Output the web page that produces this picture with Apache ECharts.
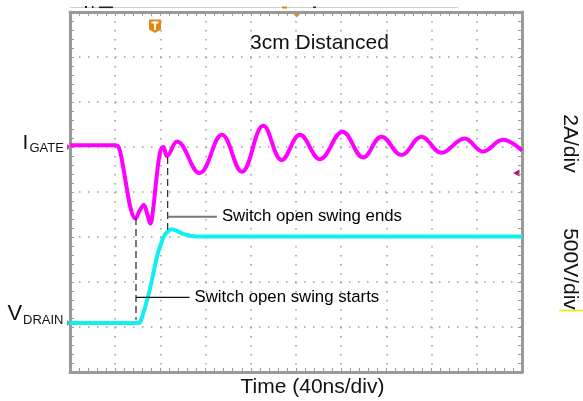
<!DOCTYPE html>
<html>
<head>
<meta charset="utf-8">
<script src="https://cdn.jsdelivr.net/npm/echarts@6/dist/echarts.min.js"></script>
<style>
html,body{margin:0;padding:0;background:#fff;}
#chart{width:583px;height:401px;}
</style>
</head>
<body>
<div id="chart"></div>
<script>
// Time axis: ns (40 ns/div, 10 divisions); vertical axis: screen divisions (8)
const timeRange = [0, 400];
const divRange = [0, 8];

// I_GATE trace (magenta): [time ns, divisions]
const gateTrace = [
  [0,5.04],[40,5.04],[43,5.0],[46,4.7],[50.5,4.05],[54,3.6],[57.8,3.41],[61.5,3.58],[65.2,3.71],[68.5,3.5],[71.1,3.3],
  [73.5,3.6],[76.5,4.3],[79.9,4.9],[82.6,5.0],[85.8,4.8],[94.7,5.12],[114.6,4.42],
  [134.4,5.27],[152.1,4.45],[171.1,5.47],[187.4,4.71],[203.5,5.27],
  [221.2,4.73],[241.2,5.34],[259.4,4.77],[275.7,5.23],
  [293.3,4.82],[311,5.23],[328.7,4.87],[349.2,5.19],[365.4,4.9],
  [383.1,5.16],[400,4.92]
];

// V_DRAIN trace (cyan): [time ns, divisions]
const drainTrace = [
  [0,1.09],[60.8,1.09],[62.3,1.12],[66,1.4],[70.5,1.82],[77,2.56],[80.5,2.85],[83.7,3.04],[87,3.13],[90.2,3.17],
  [95,3.13],[100,3.07],[106.4,3.03],[115,3.01],[400,3.01]
];

// Cursor (dashed) lines: [time ns, div]
const cursorStart = [[58.4,3.42],[58.4,1.16]];
const cursorEnd = [[86.4,4.78],[86.4,3.16]];

// Annotation leader lines
const leaderEnds = [[86.4,3.45],[130,3.45]];
const leaderStarts = [[58.4,1.66],[105.8,1.66]];
const annotationTexts = ["Switch open swing ends", "Switch open swing starts"];

const titleText = "3cm Distanced";
const xAxisTitle = "Time (40ns/div)";
const gateScale = "2A/div";
const drainScale = "500V/div";

const FONT = '"Liberation Sans", Arial, sans-serif';
const frameColor = '#9a9a9a';

const chart = echarts.init(document.getElementById('chart'), null, {renderer:'canvas'});

function xAx(pos){
  return {
    type:'value', min:timeRange[0], max:timeRange[1], interval:40, position:pos,
    axisLine:{show:true, onZero:false, lineStyle:{color:frameColor, width:3}},
    axisTick:{show:true, inside:true, length:4, lineStyle:{color:frameColor, width:1}},
    minorTick:{show:true, splitNumber:5, length:4, lineStyle:{color:frameColor, width:1}},
    axisLabel:{show:false},
    splitLine:{show: pos==='bottom', lineStyle:{color:'#9a9a9a', width:1.5, type:[1.5,7.5]}}
  };
}
function yAx(pos){
  return {
    type:'value', min:divRange[0], max:divRange[1], interval:1, position:pos,
    axisLine:{show:true, onZero:false, lineStyle:{color:frameColor, width:3}},
    axisTick:{show:true, inside:true, length:4, lineStyle:{color:frameColor, width:1}},
    minorTick:{show:true, splitNumber:5, length:4, lineStyle:{color:frameColor, width:1}},
    axisLabel:{show:false},
    splitLine:{show: pos==='left', lineStyle:{color:'#9a9a9a', width:1.5, type:[1.5,7.5]}}
  };
}

const option = {
  backgroundColor:'#ffffff',
  animation:false,
  grid:{left:70, top:12, width:452, height:360, containLabel:false},
  xAxis:[xAx('bottom'), xAx('top')],
  yAxis:[yAx('left'), yAx('right')],
  series:[
    {type:'line', name:'I_GATE', data:gateTrace, showSymbol:false, smooth:0.4, z:5,
     lineStyle:{color:'#ff00ff', width:4}},
    {type:'line', name:'V_DRAIN', data:drainTrace, showSymbol:false, smooth:0.3, z:4,
     lineStyle:{color:'#10f0f0', width:4}},
    {type:'line', data:cursorStart, showSymbol:false, z:6,
     lineStyle:{color:'#333', width:1.3, type:[7,4]}},
    {type:'line', data:cursorEnd, showSymbol:false, z:6,
     lineStyle:{color:'#333', width:1.3, type:[7,4]}},
    {type:'line', data:leaderEnds, showSymbol:false, z:6,
     lineStyle:{color:'#777', width:2}},
    {type:'line', data:leaderStarts, showSymbol:false, z:6,
     lineStyle:{color:'#111', width:1.2}},
    {type:'scatter', symbolSize:0, z:7, silent:true,
     data:[
       {value:leaderEnds[1], label:{formatter:annotationTexts[0]}},
       {value:leaderStarts[1], label:{formatter:annotationTexts[1]}}
     ],
     label:{show:true, position:'right', distance:5, color:'#000', opacity:1, fontSize:16.8, fontFamily:FONT}
    }
  ],
  graphic:[
    {type:'text', style:{text:titleText, x:250, y:43, textVerticalAlign:'middle', font:'21px '+FONT, fill:'#111'}},
    {type:'text', style:{text:xAxisTitle, x:312.5, y:387, textAlign:'center', textVerticalAlign:'middle', font:'21px '+FONT, fill:'#111'}},
    {type:'text', style:{text:'I', x:22.5, y:143, textVerticalAlign:'middle', font:'21px '+FONT, fill:'#111'}},
    {type:'text', style:{text:'GATE', x:29.5, y:148, textVerticalAlign:'middle', font:'13px '+FONT, fill:'#111'}},
    {type:'text', style:{text:'V', x:7.5, y:313.5, textVerticalAlign:'middle', font:'22px '+FONT, fill:'#111'}},
    {type:'text', style:{text:'DRAIN', x:23, y:320, textVerticalAlign:'middle', font:'13px '+FONT, fill:'#111'}},
    {type:'text', x:570, y:143.5, rotation:-Math.PI/2, style:{text:gateScale, x:0, y:0, textAlign:'center', textVerticalAlign:'middle', font:'21px '+FONT, fill:'#111'}},
    {type:'text', x:570, y:269, rotation:-Math.PI/2, style:{text:drainScale, x:0, y:0, textAlign:'center', textVerticalAlign:'middle', font:'21px '+FONT, fill:'#111'}},
    {type:'line', shape:{x1:559, y1:310.5, x2:583, y2:310.5}, style:{stroke:'#f2e600', lineWidth:1.5}},
    {type:'line', shape:{x1:70, y1:7.5, x2:458, y2:7.5}, style:{stroke:'#d0d0d0', lineWidth:1}},
    {type:'rect', shape:{x:85, y:6, width:2, height:2}, style:{fill:'#222'}},
    {type:'rect', shape:{x:92, y:6, width:1.5, height:2}, style:{fill:'#222'}},
    {type:'rect', shape:{x:99, y:6.5, width:14, height:1.6}, style:{fill:'#222'}},
    {type:'rect', shape:{x:282, y:6.5, width:5, height:2}, style:{fill:'#e8870e'}},
    {type:'rect', shape:{x:313, y:6.5, width:3, height:1.6}, style:{fill:'#333'}},
    {type:'polygon', shape:{points:[[291.5,12],[302,12],[296.7,17.5]]}, style:{fill:'#e8870e'}},
    {type:'polygon', shape:{points:[[149,19.5],[161,19.5],[161,29.5],[155,33],[149,29.5]]}, style:{fill:'#e8870e'}},
    {type:'rect', shape:{x:151.5, y:21.5, width:7, height:2}, style:{fill:'#fff'}},
    {type:'rect', shape:{x:154, y:21.5, width:2, height:8.5}, style:{fill:'#fff'}},
    {type:'polygon', shape:{points:[[513,173],[519.5,169.5],[519.5,176.5]]}, style:{fill:'#a8207f'}},
    {type:'polygon', shape:{points:[[67,144],[71,147],[67,150]]}, style:{fill:'#c040c0'}},
    {type:'polygon', shape:{points:[[67,320],[71,323],[67,326]]}, style:{fill:'#30c0b0'}}
  ]
};
chart.setOption(option);
</script>
</body>
</html>
